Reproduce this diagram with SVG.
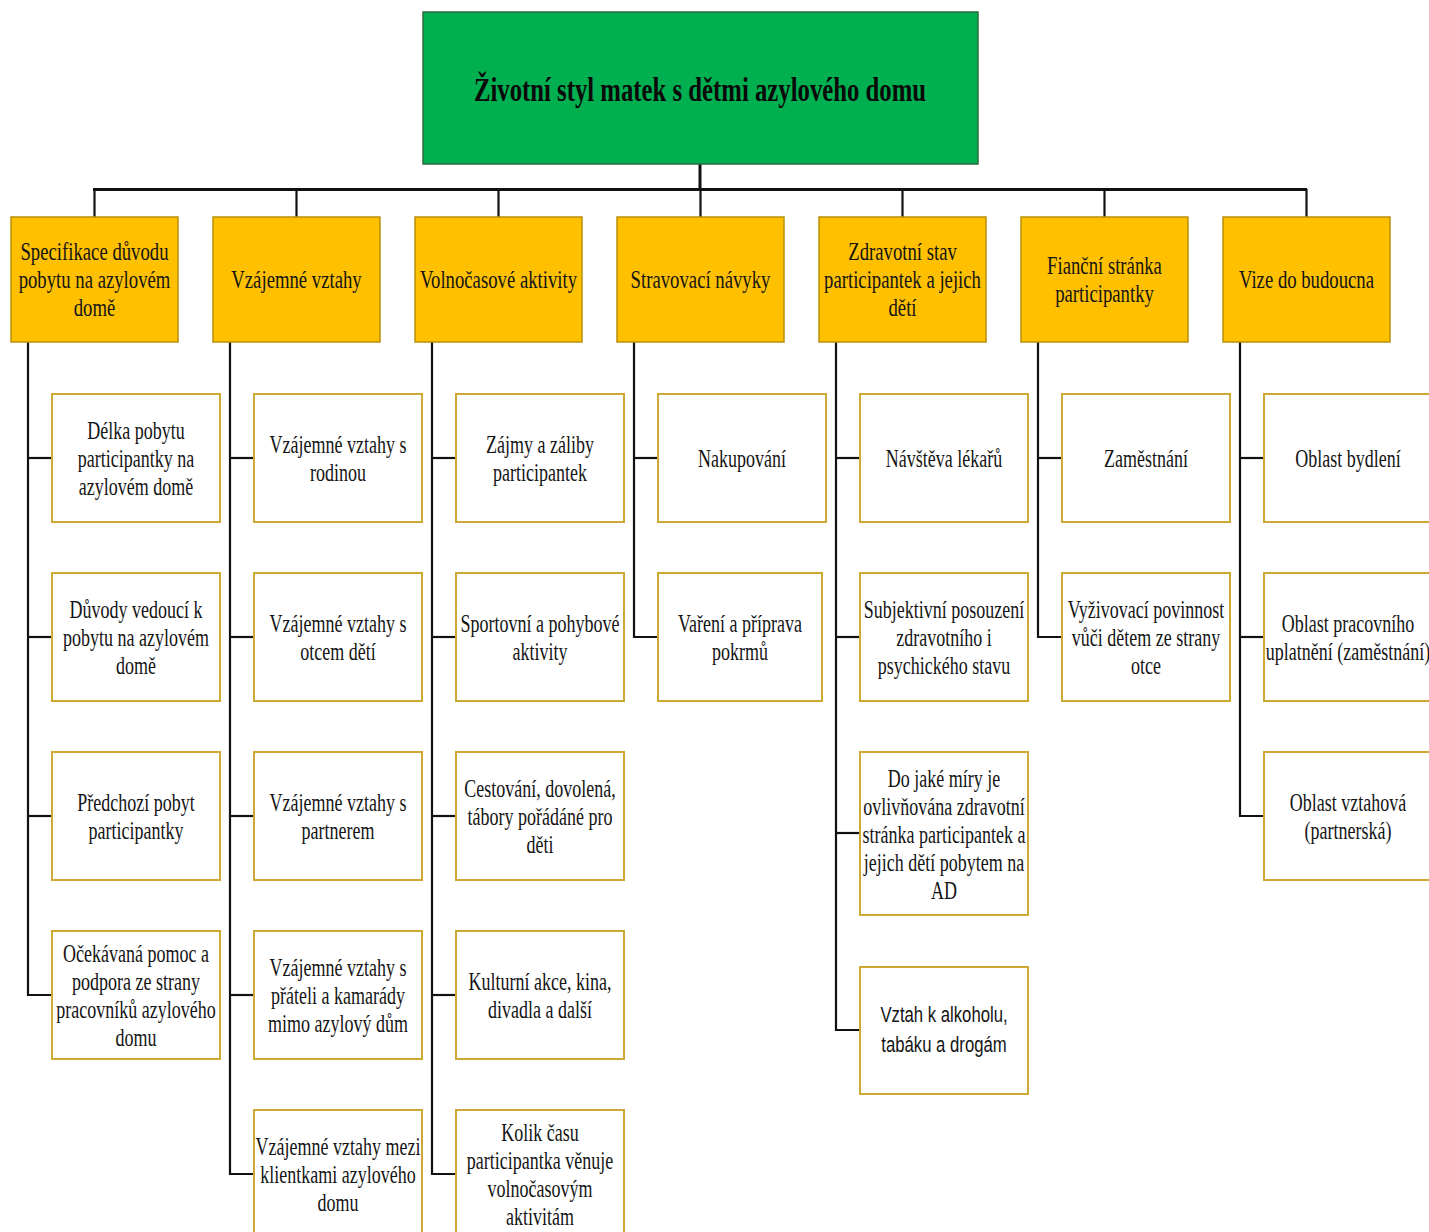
<svg xmlns="http://www.w3.org/2000/svg" width="1429" height="1232" viewBox="0 0 1429 1232">
<style>
.bg{fill:#ffffff}
.root rect{fill:#00B050;stroke:#2e6b3e;stroke-width:1.5}
.hd rect{fill:#FFC000;stroke:#B8900A;stroke-width:1.5}
.ch rect{fill:#ffffff;stroke:#CDA834;stroke-width:2}
text{font-family:"Liberation Serif","Times New Roman",serif;font-size:25px;fill:#141414;text-anchor:middle}
.hd text{font-size:26px}
.title{font-size:33px;font-weight:bold;fill:#0a0a0a}
.sans{font-family:"Liberation Sans",Arial,sans-serif;font-size:22px}
.conn line,.conn polyline{stroke:#111;stroke-width:2.2;fill:none}
.conn .bus{stroke-width:3}
</style>
<rect class="bg" x="0" y="0" width="1429" height="1232"/>

<g class="conn" id="connectors">
  <line class="bus" x1="700" y1="164" x2="700" y2="190"/>
  <line class="bus" x1="93" y1="189.5" x2="1307" y2="189.5"/>
  <line x1="94.5" y1="189" x2="94.5" y2="217"/>
  <line x1="296.5" y1="189" x2="296.5" y2="217"/>
  <line x1="498.5" y1="189" x2="498.5" y2="217"/>
  <line x1="700.5" y1="189" x2="700.5" y2="217"/>
  <line x1="902.5" y1="189" x2="902.5" y2="217"/>
  <line x1="1104.5" y1="189" x2="1104.5" y2="217"/>
  <line x1="1306.5" y1="189" x2="1306.5" y2="217"/>
  <!-- column 1 -->
  <polyline points="28,342 28,995 52,995"/>
  <line x1="28" y1="458" x2="52" y2="458"/>
  <line x1="28" y1="637" x2="52" y2="637"/>
  <line x1="28" y1="816" x2="52" y2="816"/>
  <!-- column 2 -->
  <polyline points="230,342 230,1174 254,1174"/>
  <line x1="230" y1="458" x2="254" y2="458"/>
  <line x1="230" y1="637" x2="254" y2="637"/>
  <line x1="230" y1="816" x2="254" y2="816"/>
  <line x1="230" y1="995" x2="254" y2="995"/>
  <!-- column 3 -->
  <polyline points="432,342 432,1174 456,1174"/>
  <line x1="432" y1="458" x2="456" y2="458"/>
  <line x1="432" y1="637" x2="456" y2="637"/>
  <line x1="432" y1="816" x2="456" y2="816"/>
  <line x1="432" y1="995" x2="456" y2="995"/>
  <!-- column 4 -->
  <polyline points="634,342 634,637 658,637"/>
  <line x1="634" y1="458" x2="658" y2="458"/>
  <!-- column 5 -->
  <polyline points="836,342 836,1030 860,1030"/>
  <line x1="836" y1="458" x2="860" y2="458"/>
  <line x1="836" y1="637" x2="860" y2="637"/>
  <line x1="836" y1="833" x2="860" y2="833"/>
  <!-- column 6 -->
  <polyline points="1038,342 1038,637 1062,637"/>
  <line x1="1038" y1="458" x2="1062" y2="458"/>
  <!-- column 7 -->
  <polyline points="1240,342 1240,816 1264,816"/>
  <line x1="1240" y1="458" x2="1264" y2="458"/>
  <line x1="1240" y1="637" x2="1264" y2="637"/>
</g>

<g class="root" id="root">
  <rect x="423" y="12" width="555" height="152"/>
  <text class="title" transform="translate(700,0) scale(0.75,1)" x="0" y="101">Životní styl matek s dětmi azylového domu</text>
</g>

<!-- headers -->
<g class="hd" id="h1">
  <rect x="11" y="217" width="167" height="125"/>
  <text transform="translate(94.5,0) scale(0.72,1)"><tspan x="0" y="260">Specifikace důvodu</tspan><tspan x="0" y="288">pobytu na azylovém</tspan><tspan x="0" y="316">domě</tspan></text>
</g>
<g class="hd" id="h2">
  <rect x="213" y="217" width="167" height="125"/>
  <text transform="translate(296.5,0) scale(0.72,1)"><tspan x="0" y="288">Vzájemné vztahy</tspan></text>
</g>
<g class="hd" id="h3">
  <rect x="415" y="217" width="167" height="125"/>
  <text transform="translate(498.5,0) scale(0.72,1)"><tspan x="0" y="288">Volnočasové aktivity</tspan></text>
</g>
<g class="hd" id="h4">
  <rect x="617" y="217" width="167" height="125"/>
  <text transform="translate(700.5,0) scale(0.72,1)"><tspan x="0" y="288">Stravovací návyky</tspan></text>
</g>
<g class="hd" id="h5">
  <rect x="819" y="217" width="167" height="125"/>
  <text transform="translate(902.5,0) scale(0.72,1)"><tspan x="0" y="260">Zdravotní stav</tspan><tspan x="0" y="288">participantek a jejich</tspan><tspan x="0" y="316">dětí</tspan></text>
</g>
<g class="hd" id="h6">
  <rect x="1021" y="217" width="167" height="125"/>
  <text transform="translate(1104.5,0) scale(0.72,1)"><tspan x="0" y="274">Fianční stránka</tspan><tspan x="0" y="302">participantky</tspan></text>
</g>
<g class="hd" id="h7">
  <rect x="1223" y="217" width="167" height="125"/>
  <text transform="translate(1306.5,0) scale(0.72,1)"><tspan x="0" y="288">Vize do budoucna</tspan></text>
</g>

<!-- column 1 children -->
<g class="ch" id="c1r1">
  <rect x="52" y="394" width="168" height="128"/>
  <text transform="translate(136,0) scale(0.72,1)"><tspan x="0" y="439">Délka pobytu</tspan><tspan x="0" y="467">participantky na</tspan><tspan x="0" y="495">azylovém domě</tspan></text>
</g>
<g class="ch" id="c1r2">
  <rect x="52" y="573" width="168" height="128"/>
  <text transform="translate(136,0) scale(0.72,1)"><tspan x="0" y="618">Důvody vedoucí k</tspan><tspan x="0" y="646">pobytu na azylovém</tspan><tspan x="0" y="674">domě</tspan></text>
</g>
<g class="ch" id="c1r3">
  <rect x="52" y="752" width="168" height="128"/>
  <text transform="translate(136,0) scale(0.72,1)"><tspan x="0" y="811">Předchozí pobyt</tspan><tspan x="0" y="839">participantky</tspan></text>
</g>
<g class="ch" id="c1r4">
  <rect x="52" y="931" width="168" height="128"/>
  <text transform="translate(136,0) scale(0.72,1)"><tspan x="0" y="962">Očekávaná pomoc a</tspan><tspan x="0" y="990">podpora ze strany</tspan><tspan x="0" y="1018">pracovníků azylového</tspan><tspan x="0" y="1046">domu</tspan></text>
</g>

<!-- column 2 children -->
<g class="ch" id="c2r1">
  <rect x="254" y="394" width="168" height="128"/>
  <text transform="translate(338,0) scale(0.72,1)"><tspan x="0" y="453">Vzájemné vztahy s</tspan><tspan x="0" y="481">rodinou</tspan></text>
</g>
<g class="ch" id="c2r2">
  <rect x="254" y="573" width="168" height="128"/>
  <text transform="translate(338,0) scale(0.72,1)"><tspan x="0" y="632">Vzájemné vztahy s</tspan><tspan x="0" y="660">otcem dětí</tspan></text>
</g>
<g class="ch" id="c2r3">
  <rect x="254" y="752" width="168" height="128"/>
  <text transform="translate(338,0) scale(0.72,1)"><tspan x="0" y="811">Vzájemné vztahy s</tspan><tspan x="0" y="839">partnerem</tspan></text>
</g>
<g class="ch" id="c2r4">
  <rect x="254" y="931" width="168" height="128"/>
  <text transform="translate(338,0) scale(0.72,1)"><tspan x="0" y="976">Vzájemné vztahy s</tspan><tspan x="0" y="1004">přáteli a kamarády</tspan><tspan x="0" y="1032">mimo azylový dům</tspan></text>
</g>
<g class="ch" id="c2r5">
  <rect x="254" y="1110" width="168" height="128"/>
  <text transform="translate(338,0) scale(0.72,1)"><tspan x="0" y="1155">Vzájemné vztahy mezi</tspan><tspan x="0" y="1183">klientkami azylového</tspan><tspan x="0" y="1211">domu</tspan></text>
</g>

<!-- column 3 children -->
<g class="ch" id="c3r1">
  <rect x="456" y="394" width="168" height="128"/>
  <text transform="translate(540,0) scale(0.72,1)"><tspan x="0" y="453">Zájmy a záliby</tspan><tspan x="0" y="481">participantek</tspan></text>
</g>
<g class="ch" id="c3r2">
  <rect x="456" y="573" width="168" height="128"/>
  <text transform="translate(540,0) scale(0.72,1)"><tspan x="0" y="632">Sportovní a pohybové</tspan><tspan x="0" y="660">aktivity</tspan></text>
</g>
<g class="ch" id="c3r3">
  <rect x="456" y="752" width="168" height="128"/>
  <text transform="translate(540,0) scale(0.72,1)"><tspan x="0" y="797">Cestování, dovolená,</tspan><tspan x="0" y="825">tábory pořádáné pro</tspan><tspan x="0" y="853">děti</tspan></text>
</g>
<g class="ch" id="c3r4">
  <rect x="456" y="931" width="168" height="128"/>
  <text transform="translate(540,0) scale(0.72,1)"><tspan x="0" y="990">Kulturní akce, kina,</tspan><tspan x="0" y="1018">divadla a další</tspan></text>
</g>
<g class="ch" id="c3r5">
  <rect x="456" y="1110" width="168" height="128"/>
  <text transform="translate(540,0) scale(0.72,1)"><tspan x="0" y="1141">Kolik času</tspan><tspan x="0" y="1169">participantka věnuje</tspan><tspan x="0" y="1197">volnočasovým</tspan><tspan x="0" y="1225">aktivitám</tspan></text>
</g>

<!-- column 4 children -->
<g class="ch" id="c4r1">
  <rect x="658" y="394" width="168" height="128"/>
  <text transform="translate(742,0) scale(0.72,1)"><tspan x="0" y="467">Nakupování</tspan></text>
</g>
<g class="ch" id="c4r2">
  <rect x="658" y="573" width="164" height="128"/>
  <text transform="translate(740,0) scale(0.72,1)"><tspan x="0" y="632">Vaření a příprava</tspan><tspan x="0" y="660">pokrmů</tspan></text>
</g>

<!-- column 5 children -->
<g class="ch" id="c5r1">
  <rect x="860" y="394" width="168" height="128"/>
  <text transform="translate(944,0) scale(0.72,1)"><tspan x="0" y="467">Návštěva lékařů</tspan></text>
</g>
<g class="ch" id="c5r2">
  <rect x="860" y="573" width="168" height="128"/>
  <text transform="translate(944,0) scale(0.72,1)"><tspan x="0" y="618">Subjektivní posouzení</tspan><tspan x="0" y="646">zdravotního i</tspan><tspan x="0" y="674">psychického stavu</tspan></text>
</g>
<g class="ch" id="c5r3">
  <rect x="860" y="752" width="168" height="163"/>
  <text transform="translate(944,0) scale(0.72,1)"><tspan x="0" y="787">Do jaké míry je</tspan><tspan x="0" y="815">ovlivňována zdravotní</tspan><tspan x="0" y="843">stránka participantek a</tspan><tspan x="0" y="871">jejich dětí pobytem na</tspan><tspan x="0" y="899">AD</tspan></text>
</g>
<g class="ch" id="c5r4">
  <rect x="860" y="967" width="168" height="127"/>
  <text class="sans" transform="translate(944,0) scale(0.76,1)"><tspan x="0" y="1022">Vztah k alkoholu,</tspan><tspan x="0" y="1052">tabáku a drogám</tspan></text>
</g>

<!-- column 6 children -->
<g class="ch" id="c6r1">
  <rect x="1062" y="394" width="168" height="128"/>
  <text transform="translate(1146,0) scale(0.72,1)"><tspan x="0" y="467">Zaměstnání</tspan></text>
</g>
<g class="ch" id="c6r2">
  <rect x="1062" y="573" width="168" height="128"/>
  <text transform="translate(1146,0) scale(0.72,1)"><tspan x="0" y="618">Vyživovací povinnost</tspan><tspan x="0" y="646">vůči dětem ze strany</tspan><tspan x="0" y="674">otce</tspan></text>
</g>

<!-- column 7 children -->
<g class="ch" id="c7r1">
  <rect x="1264" y="394" width="168" height="128"/>
  <text transform="translate(1348,0) scale(0.72,1)"><tspan x="0" y="467">Oblast bydlení</tspan></text>
</g>
<g class="ch" id="c7r2">
  <rect x="1264" y="573" width="168" height="128"/>
  <text transform="translate(1348,0) scale(0.72,1)"><tspan x="0" y="632">Oblast pracovního</tspan><tspan x="0" y="660">uplatnění (zaměstnání)</tspan></text>
</g>
<g class="ch" id="c7r3">
  <rect x="1264" y="752" width="168" height="128"/>
  <text transform="translate(1348,0) scale(0.72,1)"><tspan x="0" y="811">Oblast vztahová</tspan><tspan x="0" y="839">(partnerská)</tspan></text>
</g>
</svg>
